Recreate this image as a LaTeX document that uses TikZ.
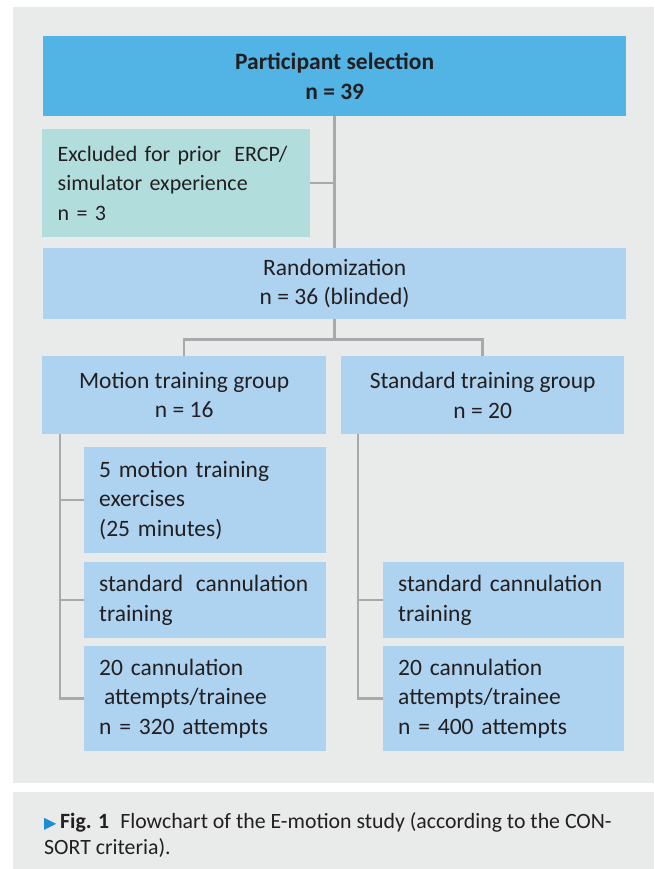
\documentclass[tikz,border=0pt]{standalone}
\usepackage{fontspec}
\setmainfont{Carlito}
\newfontfamily\symfont{DejaVu Sans}
\usetikzlibrary{calc}
\definecolor{panelgray}{HTML}{E9EBEA}
\definecolor{selblue}{HTML}{52B3E5}
\definecolor{boxblue}{HTML}{ADD3F0}
\definecolor{exclteal}{HTML}{B1DEDD}
\definecolor{linegray}{HTML}{A7A9AC}
\definecolor{inkdark}{HTML}{231F20}
\definecolor{capblue}{HTML}{1B8DD0}
\tikzset{
  cbox/.style={rectangle,fill=boxblue,inner sep=0pt,anchor=north west,align=center,
    text=inkdark,font=\fontsize{23.5}{29.5}\selectfont},   % centred text box
  lbox/.style={cbox,align=left,inner xsep=15pt},          % left-aligned text box
  boxwh/.style 2 args={minimum width=#1pt,minimum height=#2pt},
  conn/.style={draw=linegray,line width=2.5pt},
}

\begin{document}
\begin{tikzpicture}[x=1pt,y=-1pt]
  \useasboundingbox (0,0) rectangle (654,869);
  \fill[white] (0,0) rectangle (654,869);
  \fill[panelgray] (13,7) rectangle (654,783);
  \fill[panelgray] (13,792) rectangle (654,869);
  % boxes
  \node[cbox,boxwh={583}{80},fill=selblue,font=\fontsize{23.5}{30}\selectfont\bfseries]
    (sel) at (43,36) {Participant selection\\n = 39};
  \node[lbox,boxwh={268}{108},fill=exclteal,inner xsep=15.5pt,text width=237pt,
    font=\fontsize{22}{29.5}\selectfont]
    (excl) at (42,129) {\mbox{Excluded for prior\hspace{6pt} ERCP/}\\simulator experience\\n = 3};
  \node[cbox,boxwh={583}{71}] (rand) at (43,248) {Randomization\\n = 36 (blinded)};
  \node[cbox,boxwh={284}{78}] (mot) at (42,356) {Motion training group\\n = 16};
  \node[cbox,boxwh={283}{78}] (std) at (341,356) {Standard training group\\n = 20};
  \node[lbox,boxwh={242}{106},text width=212pt] (mex) at (84,447)
    {5 motion training\\exercises\\(25 minutes)};
  \node[lbox,boxwh={242}{76},text width=212pt] (mcan) at (84,562)
    {standard\hspace{5pt} cannulation\\training};
  \node[lbox,boxwh={242}{105},text width=212pt] (matt) at (84,646)
    {20 cannulation\\\hspace*{5pt}attempts/trainee\\n = 320 attempts};
  \node[lbox,boxwh={241}{76},text width=211pt] (scan) at (383,562)
    {standard cannulation\\training};
  \node[lbox,boxwh={241}{105},text width=211pt] (satt) at (383,646)
    {20 cannulation\\attempts/trainee\\n = 400 attempts};
  % connectors
  \draw[conn] (sel.south) -- (rand.north);
  \draw[conn] (excl.east) -- (excl.east -| sel.south);
  \draw[conn] (rand.south) -- ++(0,20) coordinate (split);
  \draw[conn] (mot.north) |- (split) -| (std.north);
  \coordinate (mspine) at ($(mot.south west)+(18,0)$);
  \coordinate (sspine) at ($(std.south west)+(17,0)$);
  \draw[conn] (mspine) |- (matt.west);
  \draw[conn] (mex.west) -- (mex.west -| mspine);
  \draw[conn] (mcan.west) -- (mcan.west -| mspine);
  \draw[conn] (sspine) |- (satt.west);
  \draw[conn] (scan.west) -- (scan.west -| sspine);
  % caption
  \node[anchor=north west,align=left,inner sep=0pt,text=inkdark,
    font=\fontsize{21.8}{26.5}\selectfont] (cap) at (44,812)
    {{\color{capblue}\symfont\fontsize{16}{16}\selectfont ▶}\,\textbf{Fig. 1}\hspace{11pt}Flowchart of the E-motion study (according to the CON-\\SORT criteria).};
\end{tikzpicture}
\end{document}
